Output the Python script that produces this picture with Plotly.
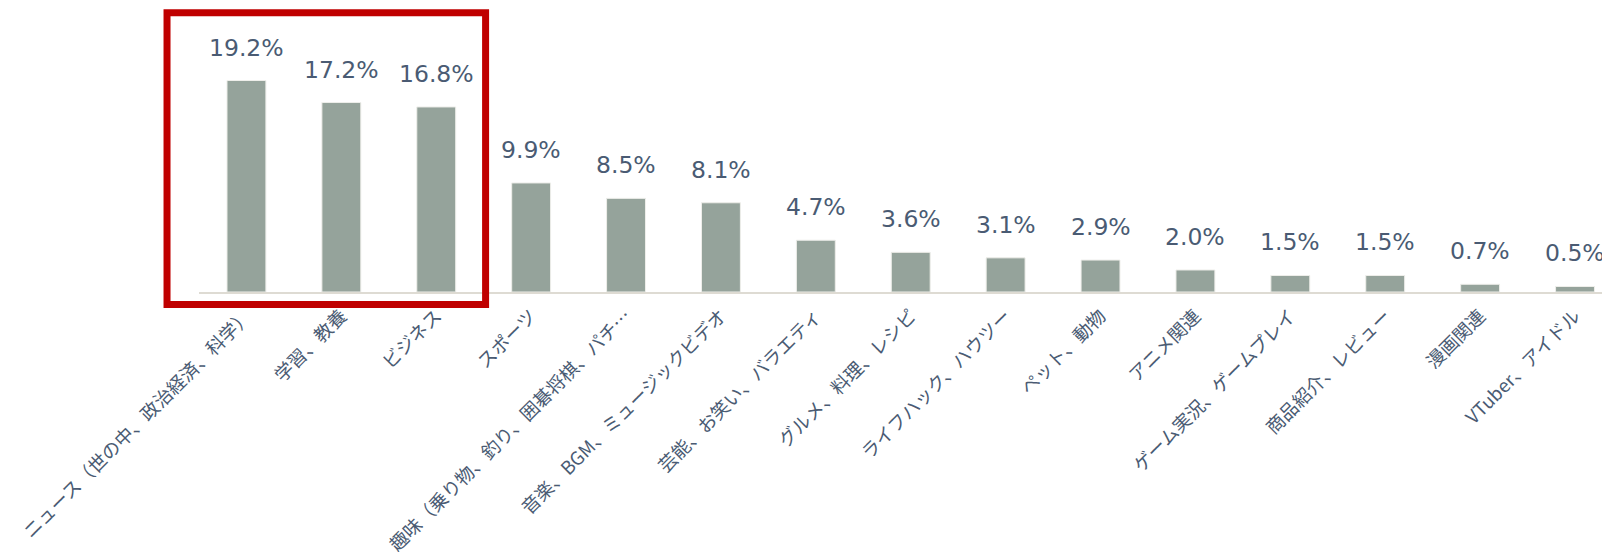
import plotly.graph_objects as go

categories = [
    "ニュース（世の中、政治経済、科学）",
    "学習、教養",
    "ビジネス",
    "スポーツ",
    "趣味（乗り物、釣り、囲碁将棋、パチ…",
    "音楽、BGM、ミュージックビデオ",
    "芸能、お笑い、バラエティ",
    "グルメ、料理、レシピ",
    "ライフハック、ハウツー",
    "ペット、動物",
    "アニメ関連",
    "ゲーム実況、ゲームプレイ",
    "商品紹介、レビュー",
    "漫画関連",
    "VTuber、アイドル",
]
values = [19.2, 17.2, 16.8, 9.9, 8.5, 8.1, 4.7, 3.6, 3.1, 2.9, 2.0, 1.5, 1.5, 0.7, 0.5]
value_labels = [f"{v:.1f}%" for v in values]
highlight = [0, 1, 2]

W, H = 1610, 552
ML, MR, MT, MB = 191, 0, 2, 268
x_range = [-0.5, 14.453]
y_range = [0, 25.6]

TEXT = "#4A5B73"
BAR = "#95A39B"

fig = go.Figure()
fig.add_trace(go.Bar(
    x=list(range(len(categories))),
    y=values,
    marker=dict(color=BAR, line=dict(color="#EEEEEA", width=1)),
    width=0.41,
    hoverinfo="skip",
))

for i, (v, t) in enumerate(zip(values, value_labels)):
    fig.add_annotation(
        x=i, y=v, text=t, showarrow=False, yanchor="bottom", yshift=17,
        font=dict(family="DejaVu Sans, Verdana, sans-serif", size=23.5, color=TEXT),
    )

# highlight box around first categories (paper coords derived from axis ranges)
def xpaper(xv):
    return (xv - x_range[0]) / (x_range[1] - x_range[0])
def ypaper(yv):
    return (yv - y_range[0]) / (y_range[1] - y_range[0])
x0 = xpaper(min(highlight) - 0.837)
x1 = xpaper(max(highlight) + 0.52)
y0 = ypaper(-1.14)
y1 = ypaper(25.35)
fig.add_shape(type="rect", xref="paper", yref="paper", x0=x0, x1=x1, y0=y0, y1=y1,
              line=dict(color="#C00000", width=7), fillcolor="rgba(0,0,0,0)", layer="above")

fig.update_layout(
    width=W, height=H,
    margin=dict(l=ML, r=MR, t=MT, b=MB, autoexpand=False),
    plot_bgcolor="white", paper_bgcolor="white",
    showlegend=False,
    xaxis=dict(
        range=x_range,
        tickmode="array",
        tickvals=list(range(len(categories))),
        ticktext=categories,
        tickangle=-45,
        ticklabelstandoff=4,
        tickfont=dict(family="Noto Sans CJK JP, sans-serif", size=18.5, color=TEXT),
        showline=True, linecolor="#DEDBD3", linewidth=2,
        showgrid=False, zeroline=False, ticks="",
        automargin=False,
        fixedrange=True,
    ),
    yaxis=dict(range=y_range, visible=False, showgrid=False, zeroline=False, fixedrange=True),
)

fig.write_html("out.html")
